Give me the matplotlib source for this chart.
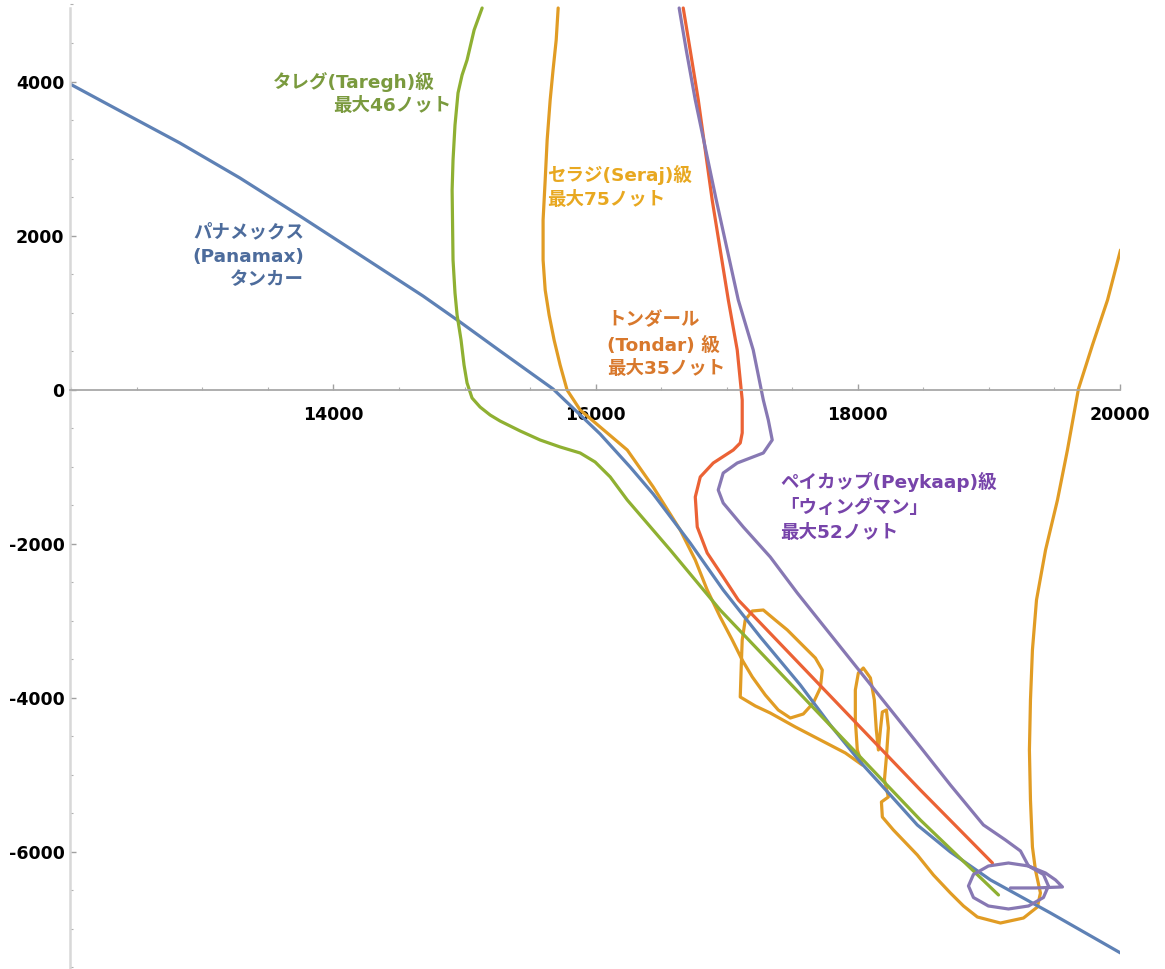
import matplotlib
matplotlib.use("Agg")
import matplotlib.pyplot as plt
from matplotlib.ticker import MultipleLocator

# track data (x, y)
panamax_x = [11990, 12408, 12828, 13286, 13744, 14202, 14683, 14966, 15271, 15675,
             16034, 16263, 16439, 16721, 16973, 17256, 17561, 17790, 18019, 18248,
             18454, 18706, 19012, 19470, 20004]
panamax_y = [3968, 3585, 3202, 2748, 2254, 1748, 1216, 878, 502, 9,
             -575, -1004, -1354, -1990, -2600, -3210, -3833, -4353, -4833, -5261,
             -5651, -6001, -6364, -6793, -7312]

taregh_x = [15134, 15073, 15019, 14981, 14950, 14927, 14912, 14905, 14912, 14927,
            14943, 14973, 14996, 15019, 15057, 15118, 15195, 15271, 15424, 15576,
            15729, 15882, 15996, 16111, 16241, 16569, 16950, 18477, 19073]
taregh_y = [4954, 4669, 4279, 4084, 3851, 3435, 2981, 2592, 1683, 1255,
            969, 645, 320, 87, -108, -225, -329, -407, -536, -653,
            -744, -822, -939, -1133, -1432, -2081, -2860, -5586, -6559]

tondar_x = [16668, 16721, 16783, 16889, 17012, 17080, 17118, 17118, 17103, 17050,
            16897, 16798, 16760, 16775, 16851, 16973, 17088, 18477, 19027]
tondar_y = [4954, 4409, 3760, 2462, 1164, 515, -134, -562, -692, -783,
            -952, -1133, -1393, -1782, -2120, -2431, -2730, -5196, -6144]

peykaap_x = [16637, 16691, 16760, 16920, 17088, 17202, 17279, 17317, 17347, 17279,
             17080, 16973, 16935, 16973, 17126, 17332, 17538, 18477, 18706, 18958,
             19126, 19241, 19302, 19416, 19454, 19416, 19302, 19149, 18996, 18882,
             18844, 18882, 18996, 19149, 19302, 19432, 19508, 19561, 19355, 19164]
peykaap_y = [4954, 4409, 3760, 2462, 1164, 515, -134, -394, -653, -822,
             -952, -1082, -1302, -1471, -1782, -2172, -2639, -4638, -5131, -5650,
             -5845, -5988, -6183, -6293, -6442, -6592, -6702, -6741, -6702, -6592,
             -6442, -6293, -6183, -6144, -6183, -6274, -6364, -6455, -6468, -6468]

seraj_x = [15714, 15699, 15675, 15653, 15630, 15615, 15599, 15599, 15615, 15645,
           15683, 15729, 15782, 15882, 16034, 16241, 16439, 16645, 16760, 16851,
           16950, 17042, 17118, 17195, 17294, 17393, 17485, 17584, 17660, 17714,
           17729, 17676, 17561, 17462, 17370, 17279, 17195, 17141, 17118, 17111,
           17103, 17218, 17332, 17523, 17714, 17905, 18034, 17996, 17981, 17981,
           18004, 18042, 18096, 18126, 18141, 18157, 18172, 18187, 18218, 18233,
           18218, 18203, 18233, 18180, 18187, 18271, 18454, 18577, 18706, 18806,
           18912, 19088, 19264, 19370, 19393, 19355, 19332, 19317, 19309, 19317,
           19332, 19363, 19432, 19523, 19599, 19683, 19790, 19905, 20004]
seraj_y = [4954, 4539, 4149, 3760, 3241, 2722, 2202, 1683, 1294, 969,
           645, 320, -4, -264, -484, -783, -1263, -1821, -2211, -2600,
           -2951, -3249, -3509, -3729, -3963, -4158, -4262, -4210, -4067, -3872,
           -3639, -3483, -3288, -3119, -2990, -2860, -2873, -2990, -3249, -3574,
           -3989, -4106, -4197, -4378, -4547, -4716, -4872, -4677, -4288, -3898,
           -3678, -3613, -3742, -4028, -4417, -4677, -4417, -4184, -4158, -4391,
           -4768, -5066, -5287, -5352, -5547, -5715, -6040, -6300, -6533, -6702,
           -6845, -6923, -6858, -6715, -6533, -6235, -5936, -5326, -4677, -4028,
           -3379, -2730, -2081, -1432, -783, 9, 580, 1164, 1813]

# (x, y, text, align) for each label line
labels_taregh = [(13538, 3994, "タレグ(Taregh)級", "left"),
                 (13996, 3682, "最大46ノット", "left")]
labels_panamax = [(13775, 2047, "パナメックス", "right"),
                  (13775, 1722, "(Panamax)", "right"),
                  (13775, 1424, "タンカー", "right")]
labels_seraj = [(15630, 2786, "セラジ(Seraj)級", "left"),
                (15630, 2462, "最大75ノット", "left")]
labels_tondar = [(16088, 900, "トンダール", "left"),
                 (16088, 568, "(Tondar) 級", "left"),
                 (16088, 262, "最大35ノット", "left")]
labels_peykaap = [(17409, -1198, "ペイカップ(Peykaap)級", "left"),
                  (17409, -1536, "「ウィングマン」", "left"),
                  (17409, -1860, "最大52ノット", "left")]

x_major = [14000, 16000, 18000, 20000]
y_major = [-6000, -4000, -2000, 0, 2000, 4000]

BLUE, GOLD, GREEN, RED, PURPLE = "#5E81B5", "#E19C24", "#8FB032", "#EB6235", "#8778B3"

fig = plt.figure(figsize=(11.65, 9.69), dpi=100)
ax = fig.add_axes([70 / 1165, 0, 1050 / 1165, 1])
ax.set_xlim(11990, 20000)
ax.set_ylim(-7520, 5058)

kw = dict(lw=2.3, solid_joinstyle="round", solid_capstyle="round")
ax.plot(seraj_x, seraj_y, color=GOLD, **kw)
ax.plot(panamax_x, panamax_y, color=BLUE, **kw)
ax.plot(taregh_x, taregh_y, color=GREEN, **kw)
ax.plot(tondar_x, tondar_y, color=RED, **kw)
ax.plot(peykaap_x, peykaap_y, color=PURPLE, **kw)

# wide latin glyphs first, CJK falls back to Noto
font = ["DejaVu Sans", "Noto Sans CJK JP"]
for group, col in [(labels_taregh, "#7A9A3E"), (labels_panamax, "#4D6C9C"),
                   (labels_seraj, "#E8A820"), (labels_tondar, "#D8782C"),
                   (labels_peykaap, "#7744AA")]:
    for x, y, s, ha in group:
        ax.text(x, y, s, color=col, ha=ha, va="center", fontsize=13.3,
                fontweight="bold", family=font)

# Mathematica-style crossing axes
for side in ("top", "right"):
    ax.spines[side].set_visible(False)
ax.spines["bottom"].set_position(("data", 0))
ax.spines["bottom"].set_color("#a8a8a8")
ax.spines["bottom"].set_linewidth(1.3)
ax.spines["bottom"].set_bounds(11990, 20000)
ax.spines["left"].set_color("#d8d8d8")
ax.spines["left"].set_linewidth(1.8)
ax.spines["left"].set_bounds(-7520, 4954)

ax.set_xticks(x_major)
ax.set_xticklabels([str(v) for v in x_major])
ax.set_yticks(y_major)
ax.set_yticklabels([str(v) for v in y_major])
ax.xaxis.set_minor_locator(MultipleLocator(500))
ax.yaxis.set_minor_locator(MultipleLocator(500))
ax.tick_params(which="major", direction="in", length=4, width=1, color="#a0a0a0",
               labelsize=12.5)
ax.tick_params(which="minor", direction="in", length=2.5, width=0.8, color="#b0b0b0")
ax.tick_params(axis="x", which="major", pad=12)
ax.tick_params(axis="y", which="major", pad=4)
for lab in ax.get_xticklabels() + ax.get_yticklabels():
    lab.set_fontweight("bold")

fig.savefig("out.png", dpi=100)
